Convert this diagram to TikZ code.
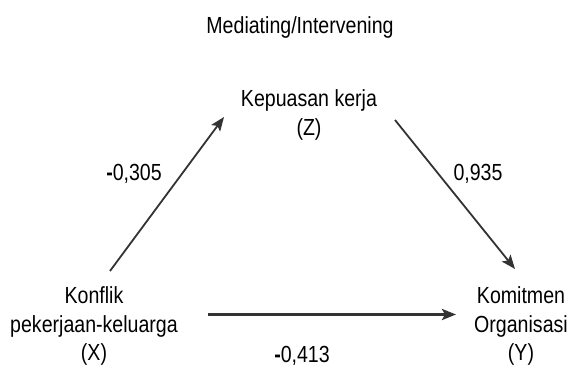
\documentclass[tikz,border=0pt]{standalone}
\usepackage{fontspec}
\setmainfont[FakeStretch=0.84]{Liberation Sans}
\usetikzlibrary{arrows.meta}
\definecolor{linegray}{HTML}{333333}
\tikzset{
  lbl/.style={font=\fontsize{23.3}{28.5}\selectfont, inner sep=0pt, align=center, text=black},
  conn/.style={draw=linegray, line width=1.8pt, -{Stealth[length=14pt,width=11pt,inset=3pt]}},
  connthick/.style={conn, line width=2.8pt}
}
\begin{document}
\begin{tikzpicture}[x=1pt,y=-1pt]
\useasboundingbox (0,0) rectangle (573,367);
\node[lbl] (title) at (300,27) {Mediating/Intervening};
\node[lbl] (Z) at (309,115) {Kepuasan kerja\\(Z)};
\node[lbl] (X) at (94,326) {Konflik\\pekerjaan-keluarga\\(X)};
\node[lbl] (Y) at (521,326) {Komitmen\\Organisasi\\(Y)};
\coordinate (xs) at (110,271);
\coordinate (zin) at (224,117);
\coordinate (zs) at (395,120);
\coordinate (yin) at (515,269);
\coordinate (xh) at (208,314.5);
\coordinate (yh) at (456,314.5);
\draw[conn] (xs) -- (zin);
\draw[conn] (zs) -- (yin);
\draw[connthick] (xh) -- (yh);
\node[lbl] (a) at (134,174) {{\bfseries -}0,305};
\node[lbl] (b) at (478,174) {0,935};
\node[lbl] (c) at (302,355.5) {{\bfseries -}0,413};
\end{tikzpicture}
\end{document}
